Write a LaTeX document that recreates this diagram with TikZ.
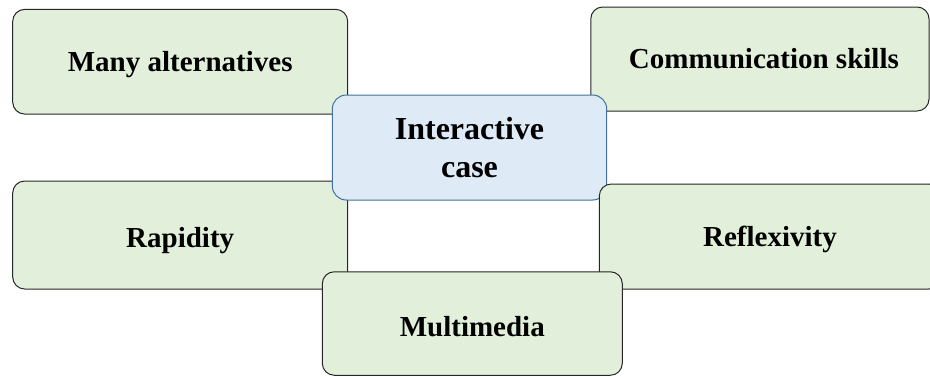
\documentclass[tikz,border=0pt]{standalone}
\usepackage{fontspec}
\setmainfont{Liberation Serif}
\definecolor{leafgreen}{HTML}{E2EFDA}
\definecolor{paleblue}{HTML}{DEEBF7}
\definecolor{blueedge}{HTML}{41719C}
\definecolor{edgegray}{HTML}{262626}
\tikzset{
  topic/.style={draw=edgegray, line width=1pt, fill=leafgreen, rounded corners=12pt,
    inner sep=0pt, outer sep=0pt, align=center, text height=19pt, text depth=0pt,
    font=\fontsize{29}{34}\selectfont\bfseries},
  lowtext/.style={text height=25pt},
  core/.style={draw=blueedge, line width=1pt, fill=paleblue, rounded corners=14pt,
    inner sep=0pt, outer sep=0pt, align=center,
    font=\fontsize{32}{37.7}\selectfont\bfseries}
}
\begin{document}
\begin{tikzpicture}[x=1pt, y=-1pt]
  \useasboundingbox (0,0) rectangle (930,376);
  \clip (0,0) rectangle (930,376);
  % surrounding topics, drawn in stacking order
  \node[topic, minimum width=335pt, minimum height=104.7pt] (many) at (180.2,61.7) {Many alternatives};
  \node[topic, minimum width=338.3pt, minimum height=104pt] (comm) at (759.9,59) {\hspace*{8pt}Communication skills};
  \node[topic, lowtext, minimum width=335pt, minimum height=108pt] (rapid) at (180.2,235) {Rapidity};
  % central case
  \node[core, minimum width=274.4pt, minimum height=105pt] (case) at (469.5,147.5) {Interactive\\case};
  \node[topic, minimum width=341.4pt, minimum height=105pt] (reflex) at (770,236.5) {Reflexivity};
  \node[topic, lowtext, minimum width=300pt, minimum height=103.5pt] (media) at (472.3,323.5) {Multimedia};
\end{tikzpicture}
\end{document}
